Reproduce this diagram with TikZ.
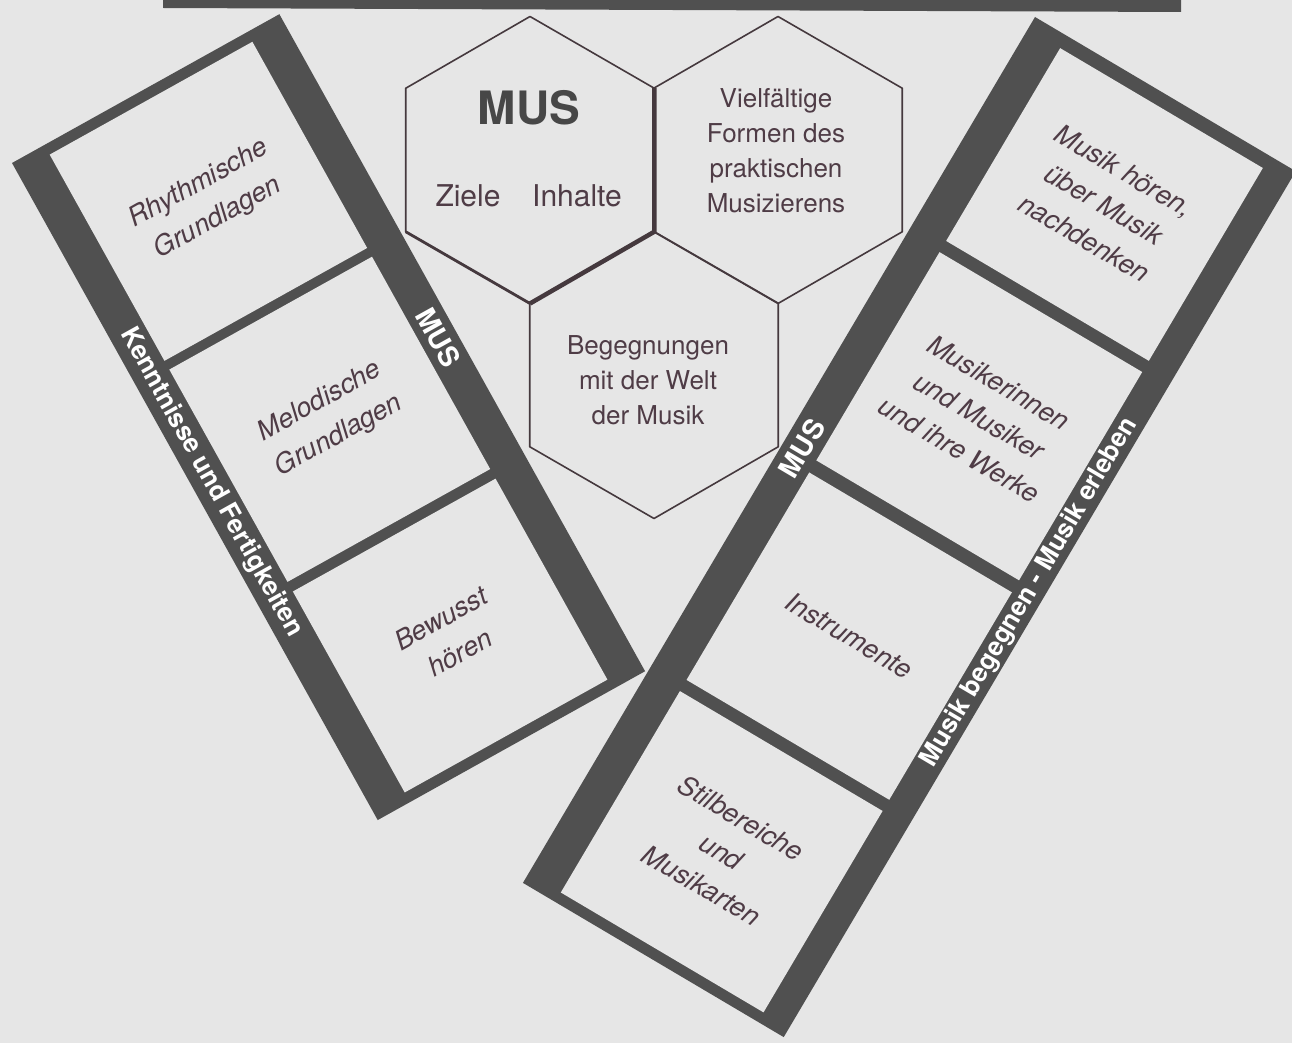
\documentclass[tikz,border=0pt]{standalone}
\usepackage{fontspec}
\setmainfont{TeX Gyre Heros}
\definecolor{paper}{HTML}{E6E6E6}
\definecolor{bandgray}{HTML}{505050}
\definecolor{inkmauve}{HTML}{4F3C46}
\definecolor{hexink}{HTML}{45393E}
\definecolor{musgray}{HTML}{474747}
\tikzset{
    celltext/.style={text=inkmauve, font=\itshape\fontsize{27}{39}\selectfont, align=center},
    bandtext/.style={text=white, font=\bfseries\fontsize{26}{26}\selectfont, inner sep=0pt},
    hexline/.style={draw=hexink, line width=1.6pt, line join=round},
    hextext/.style={text=inkmauve, font=\fontsize{26}{35}\selectfont, align=center}
}
\begin{document}
\begin{tikzpicture}[x=1pt, y=1pt]
    \useasboundingbox (0,0) rectangle (1292,-1043);
    \fill[paper] (0,0) rectangle (1292,-1043);
    \fill[bandgray] (163,0) -- (1181,0) -- (1181,-12) -- (163,-8) -- cycle;
    % Waben
    \foreach \cx/\cy in {530/-160, 778/-160, 654/-375}
        {
            \draw[hexline, shift={(\cx,\cy)}] (90:143.5) -- (150:143.5) -- (210:143.5) -- (270:143.5) -- (330:143.5) -- (30:143.5) -- cycle;
        }
    \draw[hexline, line width=4.5pt, shift={(530,-160)}] (30:143.5) -- (330:143.5) -- (270:143.5);
    \draw[hexline, line width=2.8pt, shift={(530,-160)}] (270:143.5) -- (210:143.5);
    \node[text=musgray, font=\bfseries\fontsize{46}{46}\selectfont] (mus) at (529,-108) {MUS};
    \node[hextext, font=\fontsize{30}{30}\selectfont] (ziele) at (468,-196) {Ziele};
    \node[hextext, font=\fontsize{30}{30}\selectfont] (inhalte) at (577,-196) {Inhalte};
    \node[hextext] (formen) at (776,-151) {Vielfältige\\Formen des\\praktischen\\Musizierens};
    \node[hextext] (welt) at (648,-380) {Begegnungen\\mit der Welt\\der Musik};
    % linker Streifen
    \begin{scope}[shift={(12,-163)}, rotate=-60.9]
        \fill[bandgray] (0,0) rectangle (752,306);
        \foreach \a/\b in {11/247, 257/500, 511/741}
            {
                \fill[paper] (\a,37) rectangle (\b,269);
            }
        \node[bandtext, rotate=-60.9] (kenntnisse) at (376,18.5) {Kenntnisse und Fertigkeiten};
        \node[bandtext, font=\bfseries\fontsize{28}{28}\selectfont, rotate=-60.9] (musleft) at (360,287.5) {MUS};
        \node[celltext, rotate=29.1] (rhythmisch) at (129,153) {Rhythmische\\Grundlagen};
        \node[celltext, rotate=29.1] (melodisch) at (378,153) {Melodische\\Grundlagen};
        \node[celltext, rotate=29.1] (bewusst) at (626,153) {Bewusst\\hören};
    \end{scope}
    % rechter Streifen
    \begin{scope}[shift={(1035,-17)}, rotate=-120.6]
        \fill[bandgray] (0,0) rectangle (1006,303);
        \foreach \a/\b in {14/238, 251/493, 507/748, 761/995}
            {
                \fill[paper] (\a,37.5) rectangle (\b,273);
            }
        \node[bandtext, font=\bfseries\fontsize{28}{28}\selectfont, rotate=59.4] (musright) at (490,19) {MUS};
        \node[bandtext, rotate=59.4] (begegnen) at (498,288) {Musik begegnen - Musik erleben};
        \node[celltext, rotate=-30.6] (hoeren) at (126,155) {Musik hören,\\über Musik\\nachdenken};
        \node[celltext, rotate=-30.6] (musiker) at (372,155) {Musikerinnen\\und Musiker\\und ihre Werke};
        \node[celltext, rotate=-30.6] (instrumente) at (627,155) {Instrumente};
        \node[celltext, rotate=-30.6] (stil) at (878,155) {Stilbereiche\\und\\Musikarten};
    \end{scope}
\end{tikzpicture}
\end{document}
